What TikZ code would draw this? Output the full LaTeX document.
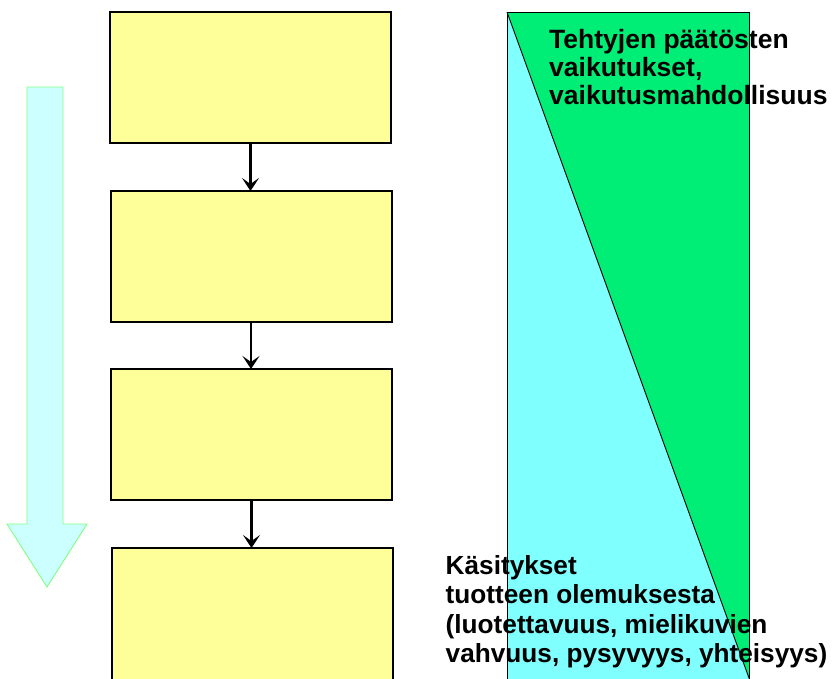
\documentclass[tikz,border=0pt]{standalone}
\usepackage{fontspec}
\setmainfont{Liberation Sans}
\usetikzlibrary{arrows.meta}
\definecolor{boxyellow}{RGB}{255,255,153}
\definecolor{paleCyan}{RGB}{204,255,255}
\definecolor{paleGreen}{RGB}{128,255,128}
\definecolor{triCyan}{RGB}{128,255,255}
\definecolor{triGreen}{RGB}{0,238,118}
\tikzset{
  stagebox/.style={draw=black, line width=2pt, fill=boxyellow, minimum width=281pt, minimum height=131pt, anchor=north west, inner sep=0pt, outer sep=0pt},
  flowarrow/.style={draw=black, line width=2.4pt, -{Stealth[length=13pt,width=17pt,inset=6pt]}},
  bigtext/.style={align=left, inner sep=0pt, anchor=north west}
}
\begin{document}
\begin{tikzpicture}[x=1pt,y=-1pt]
\useasboundingbox (0,0) rectangle (834,678);
\clip (0,0) rectangle (834,678);
% big downward arrow
\draw[draw=paleGreen, fill=paleCyan, line width=0.9pt]
  (27,87) -- (63,87) -- (63,524) -- (87,524) -- (47,587) -- (7,524) -- (27,524) -- cycle;
% boxes
\node[stagebox] (b1) at (110,12) {};
\node[stagebox] (b2) at (110.5,191) {};
\node[stagebox] (b3) at (111,369) {};
\node[stagebox, minimum height=160pt] (b4) at (112,548) {};
\draw[flowarrow] (b1.south) -- (b1.south |- b2.north);
\draw[flowarrow] (b2.south) -- (b2.south |- b3.north);
\draw[flowarrow] (b3.south) -- (b3.south |- b4.north);
% right split rectangle
\coordinate (rtl) at (507,12);
\coordinate (rtr) at (749,12);
\coordinate (rbl) at (507,700);
\coordinate (rbr) at (749,700);
\coordinate (dend) at (757,700);
\fill[triCyan] (rtl) -- (dend) -- (rbl) -- cycle;
\fill[triGreen] (rtl) -- (rtr) -- (rbr) -- (dend) -- cycle;
\draw[black, line width=0.9pt] (rtl) -- (dend);
\draw[black, line width=0.9pt] (rbl) -- (rtl) -- (rtr) -- (rbr);
% texts
\node[bigtext, font=\fontsize{26.5}{28}\selectfont\bfseries] (t1) at (549,29) {Tehtyjen päätösten\\vaikutukset,\\vaikutusmahdollisuus};
\node[bigtext, font=\fontsize{26.2}{29.3}\selectfont\bfseries] (t2) at (445.5,555.5) {Käsitykset\\tuotteen olemuksesta\\(luotettavuus, mielikuvien\\vahvuus, pysyvyys, yhteisyys)};
\end{tikzpicture}
\end{document}
